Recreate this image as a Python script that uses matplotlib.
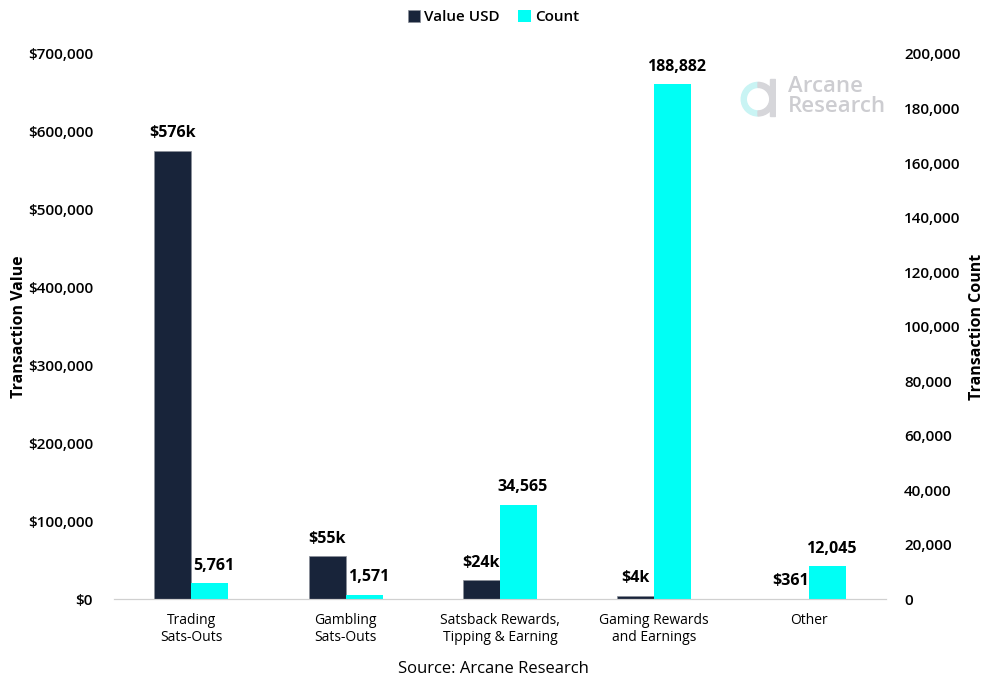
import numpy as np
import matplotlib.pyplot as plt
from matplotlib.patches import Wedge
from matplotlib.ticker import FuncFormatter

plt.rcParams['font.family'] = ['Open Sans', 'DejaVu Sans']

categories = ['Trading\nSats-Outs', 'Gambling\nSats-Outs', 'Satsback Rewards,\nTipping & Earning',
              'Gaming Rewards\nand Earnings', 'Other']
value_usd = [576000, 55000, 24000, 4000, 361]
value_labels = ['$576k', '$55k', '$24k', '$4k', '$361']
count = [5761, 1571, 34565, 188882, 12045]

dark = '#18243a'
cyan = '#00fff5'

fig = plt.figure(figsize=(9.87, 6.8), dpi=100)
ax = fig.add_axes([0.1155, 0.119, 0.782, 0.8016])
ax2 = ax.twinx()

x = np.arange(len(categories))
w = 0.24
ax.bar(x - w / 2, value_usd, w, color=dark, edgecolor='#8a8f99', linewidth=0.5, label='Value USD', zorder=2)
ax2.bar(x + w / 2, count, w, color=cyan, label='Count', zorder=2)

ax.set_ylim(0, 700000)
ax2.set_ylim(0, 200000)
ax.set_xlim(-0.5, 4.5)
ax.set_yticks(np.arange(0, 700001, 100000))
ax2.set_yticks(np.arange(0, 200001, 20000))
ax.yaxis.set_major_formatter(FuncFormatter(lambda v, p: '${:,.0f}'.format(v)))
ax2.yaxis.set_major_formatter(FuncFormatter(lambda v, p: '{:,.0f}'.format(v)))

for a in (ax, ax2):
    for s in ['top', 'left', 'right']:
        a.spines[s].set_visible(False)
    a.spines['bottom'].set_color('#d0d0d0')
    a.tick_params(axis='y', length=0, labelsize=11)
    for t in a.get_yticklabels():
        t.set_fontweight('semibold')
ax.tick_params(axis='y', pad=15)
ax2.tick_params(axis='y', pad=13)

ax.set_xticks(x)
ax.set_xticklabels(categories, fontsize=10)
ax.tick_params(axis='x', length=0, pad=10)

ax.set_ylabel('Transaction Value', fontsize=11.5, fontweight='bold')
ax2.set_ylabel('Transaction Count', fontsize=11.5, fontweight='bold')
ax.yaxis.set_label_coords(-0.113, 0.5)
ax2.yaxis.set_label_coords(1.108, 0.5)

for i, v in enumerate(value_usd):
    ax.annotate(value_labels[i], (x[i] - w / 2, v), xytext=(0, 7), textcoords='offset points',
                ha='center', va='bottom', fontsize=11.5, fontweight='bold')
for i, c in enumerate(count):
    ax2.annotate('{:,}'.format(c), (x[i] + w / 2, c), xytext=(3, 7), textcoords='offset points',
                 ha='center', va='bottom', fontsize=11.5, fontweight='bold')

h1, l1 = ax.get_legend_handles_labels()
h2, l2 = ax2.get_legend_handles_labels()
leg = fig.legend(h1 + h2, l1 + l2, loc='center', bbox_to_anchor=(0.5, 0.975), ncol=2, frameon=False,
                 fontsize=11, handlelength=0.8, handleheight=0.8, handletextpad=0.3, columnspacing=1.2)
for t in leg.get_texts():
    t.set_fontweight('semibold')

fig.text(0.5, 0.016, 'Source: Arcane Research', ha='center', va='center', fontsize=12)

# logo
lax = fig.add_axes([0.748, 0.827, 0.04, 0.058])
lax.set_aspect('equal')
lax.axis('off')
lax.add_patch(Wedge((0, 0), 1, 90, 270, width=0.3, color='#c9f4f4'))
lax.add_patch(Wedge((0, 0), 1, 270, 90, width=0.3, color='#d6d6da'))
lax.add_patch(plt.Rectangle((0.7, -1), 0.3, 2.2, color='#d6d6da'))
lax.set_xlim(-1.1, 1.1)
lax.set_ylim(-1.1, 1.25)
fig.text(0.798, 0.858, 'Arcane\nResearch', fontsize=16, fontweight='semibold', color='#cdcdd1',
         ha='left', va='center', linespacing=0.95)

fig.savefig('out.png', dpi=100)
